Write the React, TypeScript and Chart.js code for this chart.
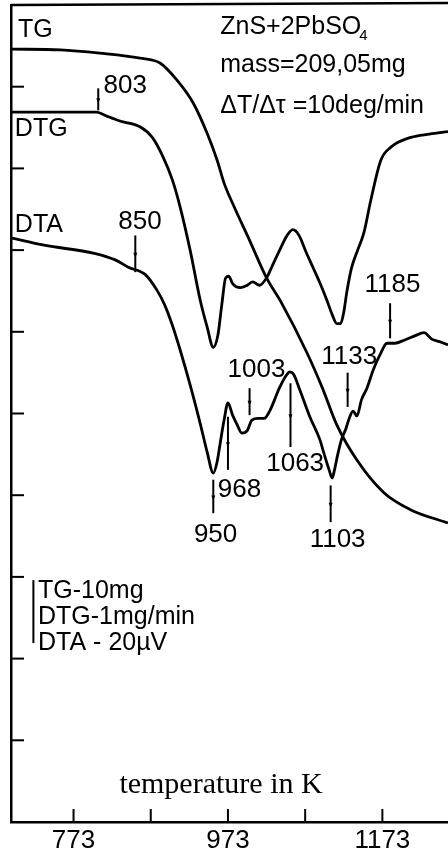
import React, { useEffect, useRef } from 'react';
import { Chart, registerables } from 'chart.js';

Chart.register(...registerables);

// ---- data (temperature in K, signal in chart divisions) ----
const tgTemp = [692, 756, 807, 859, 885, 907, 928, 946, 959, 968, 981, 1001, 1023, 1042, 1075, 1095, 1114, 1140, 1175, 1210, 1258];
const tgSignal = [9.46, 9.45, 9.41, 9.35, 9.29, 9.08, 8.80, 8.43, 8.10, 7.82, 7.53, 7.12, 6.66, 6.36, 5.75, 5.32, 4.86, 4.43, 4.03, 3.82, 3.66];

const dtgTemp = [692, 803, 816, 833, 859, 875, 888, 901, 911, 924, 937, 946, 954, 960, 965, 970, 974, 979, 989, 998, 1005, 1014, 1023, 1031, 1040, 1049, 1057, 1065, 1074, 1083, 1092, 1101, 1108, 1114, 1119, 1123, 1127, 1133, 1141, 1149, 1158, 1171, 1184, 1210, 1234, 1258];
const dtgSignal = [8.69, 8.69, 8.64, 8.58, 8.51, 8.38, 8.16, 7.86, 7.53, 7.00, 6.39, 6.06, 5.81, 5.96, 6.33, 6.66, 6.68, 6.59, 6.54, 6.57, 6.61, 6.57, 6.66, 6.82, 7.00, 7.17, 7.25, 7.18, 6.98, 6.79, 6.60, 6.39, 6.21, 6.10, 6.10, 6.24, 6.49, 6.78, 7.00, 7.21, 7.61, 8.10, 8.26, 8.38, 8.42, 8.45];

const dtaTemp = [692, 735, 800, 827, 844, 866, 881, 891, 901, 911, 924, 937, 946, 954, 959, 963, 968, 973, 979, 985, 991, 998, 1004, 1012, 1020, 1027, 1040, 1048, 1053, 1058, 1066, 1079, 1092, 1098, 1104, 1108, 1111, 1115, 1120, 1126, 1130, 1135, 1140, 1146, 1153, 1161, 1170, 1179, 1189, 1202, 1215, 1227, 1237, 1247, 1258];
const dtaSignal = [7.15, 7.06, 6.96, 6.88, 6.79, 6.70, 6.51, 6.33, 6.08, 5.78, 5.35, 4.88, 4.53, 4.27, 4.41, 4.64, 4.92, 5.13, 4.98, 4.86, 4.76, 4.79, 4.92, 4.94, 4.94, 5.03, 5.32, 5.46, 5.51, 5.48, 5.29, 4.96, 4.68, 4.49, 4.31, 4.21, 4.31, 4.49, 4.68, 4.82, 4.94, 5.03, 4.97, 5.17, 5.31, 5.53, 5.72, 5.86, 5.86, 5.90, 5.95, 5.99, 5.91, 5.88, 5.84];

const xTickValues = [773, 873, 973, 1073, 1173];
const xTickLabels = ['773', '', '973', '', '1173'];
const yTickValues = [1, 2, 3, 4, 5, 6, 7, 8, 9];

// peak temperature marks
const markLabels = ['803', '850', '950', '968', '1003', '1063', '1103', '1133', '1185'];
const markTemp = [805, 853, 954, 973, 1001, 1054, 1106, 1128, 1183];
const markFrom = [8.98, 7.18, 4.19, 4.96, 5.31, 5.37, 4.12, 5.50, 6.35];
const markTo = [8.71, 6.73, 3.78, 4.31, 4.98, 4.59, 3.67, 5.08, 5.92];
const markTextTemp = [840, 859, 957, 988, 1010, 1060, 1115, 1130, 1186];
const markTextSignal = [9.01, 7.34, 3.51, 4.06, 5.54, 4.39, 3.45, 5.69, 6.57];

const curveNames = ['TG', 'DTG', 'DTA'];
const curveNameTemp = [701, 697, 697];
const curveNameSignal = [9.69, 8.48, 7.31];

const infoLines = ['ZnS+2PbSO', 'mass=209,05mg', 'ΔT/Δτ =10deg/min'];
const infoTemp = 963;
const infoSignal = [9.73, 9.27, 8.76];

const scaleLines = ['TG-10mg', 'DTG-1mg/min', 'DTA - 20µV'];
const scaleSignal = [2.83, 2.51, 2.19];
const scaleBarTemp = 721;
const scaleTextTemp = 727;
const scaleBarFrom = 2.96;
const scaleBarTo = 2.19;

const axisTitle = 'temperature in K';
const axisTitleTemp = 964;
const axisTitleSignal = 0.45;

const SANS = '"Liberation Sans", Arial, sans-serif';
const SERIF = '"Liberation Serif", "Times New Roman", serif';

export default function App() {
  const ref = useRef<HTMLCanvasElement>(null);

  useEffect(() => {
    const canvas = ref.current;
    if (!canvas) return;

    const deco = {
      id: 'deco',
      afterDatasetsDraw(chart: any) {
        const { ctx, chartArea, scales } = chart;
        const x = scales.x;
        const y = scales.y;
        ctx.save();
        ctx.strokeStyle = '#000';
        ctx.fillStyle = '#000';
        ctx.lineCap = 'butt';

        // top frame line
        ctx.lineWidth = 2.5;
        ctx.beginPath();
        ctx.moveTo(chartArea.left, chartArea.top);
        ctx.lineTo(chartArea.right, chartArea.top - 2);
        ctx.stroke();

        // inward tick marks
        ctx.lineWidth = 2;
        yTickValues.forEach((v) => {
          const py = y.getPixelForValue(v);
          ctx.beginPath();
          ctx.moveTo(chartArea.left, py);
          ctx.lineTo(chartArea.left + 13, py);
          ctx.stroke();
        });
        xTickValues.forEach((v) => {
          const px = x.getPixelForValue(v);
          ctx.beginPath();
          ctx.moveTo(px, chartArea.bottom);
          ctx.lineTo(px, chartArea.bottom - 13);
          ctx.stroke();
        });

        // peak marks
        ctx.lineWidth = 2;
        markLabels.forEach((lab, i) => {
          const px = x.getPixelForValue(markTemp[i]);
          const y1 = y.getPixelForValue(markFrom[i]);
          const y2 = y.getPixelForValue(markTo[i]);
          ctx.beginPath();
          ctx.moveTo(px, y1);
          ctx.lineTo(px, y2);
          ctx.stroke();
          const my = (y1 + y2) / 2 + 3;
          ctx.beginPath();
          ctx.moveTo(px - 2, my - 4);
          ctx.lineTo(px + 2, my - 4);
          ctx.lineTo(px, my + 1);
          ctx.closePath();
          ctx.fill();
        });
        ctx.font = `26px ${SANS}`;
        ctx.textAlign = 'center';
        ctx.textBaseline = 'middle';
        markLabels.forEach((lab, i) => {
          ctx.fillText(lab, x.getPixelForValue(markTextTemp[i]), y.getPixelForValue(markTextSignal[i]));
        });

        // curve names
        ctx.font = `25px ${SANS}`;
        ctx.textAlign = 'left';
        curveNames.forEach((n, i) => {
          ctx.fillText(n, x.getPixelForValue(curveNameTemp[i]), y.getPixelForValue(curveNameSignal[i]));
        });

        // info block
        ctx.font = `25px ${SANS}`;
        const ix = x.getPixelForValue(infoTemp);
        infoLines.forEach((t, i) => {
          ctx.fillText(t, ix, y.getPixelForValue(infoSignal[i]));
        });
        const w0 = ctx.measureText(infoLines[0]).width;
        ctx.font = `15px ${SANS}`;
        ctx.fillText('4', ix + w0 - 2, y.getPixelForValue(infoSignal[0]) + 9);

        // scale bar legend
        ctx.lineWidth = 2;
        const bx = x.getPixelForValue(scaleBarTemp);
        ctx.beginPath();
        ctx.moveTo(bx, y.getPixelForValue(scaleBarFrom));
        ctx.lineTo(bx, y.getPixelForValue(scaleBarTo));
        ctx.stroke();
        ctx.font = `25px ${SANS}`;
        scaleLines.forEach((t, i) => {
          ctx.fillText(t, x.getPixelForValue(scaleTextTemp), y.getPixelForValue(scaleSignal[i]));
        });

        // axis title
        ctx.font = `30px ${SERIF}`;
        ctx.textAlign = 'center';
        ctx.fillText(axisTitle, x.getPixelForValue(axisTitleTemp), y.getPixelForValue(axisTitleSignal));

        ctx.restore();
      },
    };

    const lineStyle = {
      borderColor: '#000',
      borderWidth: 2.8,
      pointRadius: 0,
      fill: false,
      cubicInterpolationMode: 'monotone' as const,
    };

    const chart = new Chart(canvas, {
      type: 'line',
      data: {
        datasets: [
          { label: 'TG', data: tgTemp.map((t, i) => ({ x: t, y: tgSignal[i] })), ...lineStyle },
          { label: 'DTG', data: dtgTemp.map((t, i) => ({ x: t, y: dtgSignal[i] })), ...lineStyle },
          { label: 'DTA', data: dtaTemp.map((t, i) => ({ x: t, y: dtaSignal[i] })), ...lineStyle },
        ],
      },
      options: {
        responsive: false,
        animation: false,
        events: [],
        layout: { padding: { top: 5, right: 0, left: 0, bottom: 0 } },
        plugins: { legend: { display: false }, tooltip: { enabled: false } },
        scales: {
          x: {
            type: 'linear',
            min: 692,
            max: 1258,
            afterBuildTicks: (s: any) => {
              s.ticks = xTickValues.map((v) => ({ value: v }));
            },
            afterFit: (s: any) => {
              s.height = 32;
            },
            grid: { display: false, drawTicks: false },
            border: { display: true, color: '#000', width: 2.5 },
            ticks: {
              color: '#000',
              font: { family: SANS, size: 26 },
              padding: 3,
              autoSkip: false,
              maxRotation: 0,
              callback: (_v: any, i: number) => xTickLabels[i],
            },
          },
          y: {
            type: 'linear',
            min: 0,
            max: 10,
            afterFit: (s: any) => {
              s.width = 11;
            },
            grid: { display: false, drawTicks: false },
            border: { display: true, color: '#000', width: 2.5 },
            ticks: { display: false },
          },
        },
      },
      plugins: [deco],
    });

    return () => chart.destroy();
  }, []);

  return (
    <div style={{ position: 'fixed', left: 0, top: 0, width: 448, height: 854, background: '#fff' }}>
      <canvas ref={ref} width={448} height={854} style={{ display: 'block' }} />
    </div>
  );
}
